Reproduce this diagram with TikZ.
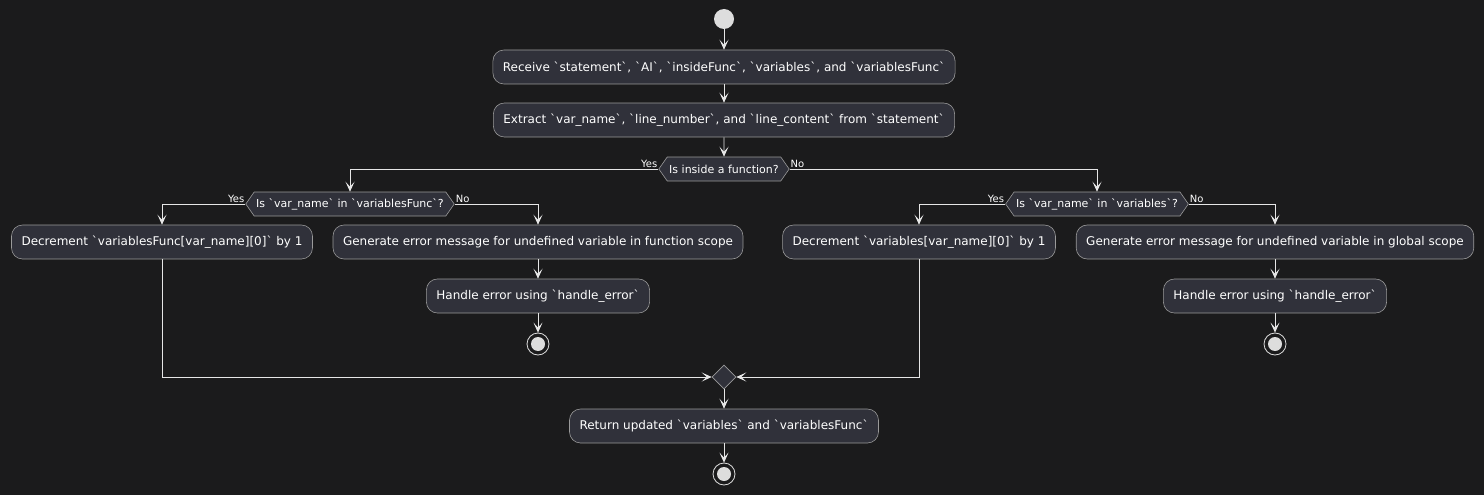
\documentclass[tikz,border=0pt]{standalone}
\usepackage{fontspec}
\setmainfont{DejaVu Sans}[Ligatures=TeXOff]
\usetikzlibrary{arrows.meta,shapes.symbols,shapes.geometric,calc}
\definecolor{bg}{HTML}{1B1B1C}
\definecolor{boxc}{HTML}{30313A}
\definecolor{bordc}{HTML}{9A9A9A}
\definecolor{linec}{HTML}{E6E6E6}
\definecolor{dotc}{HTML}{DDDDDD}
\newcommand{\bt}{\char"60\relax}
\tikzset{
 act/.style={draw=bordc, fill=boxc, rounded corners=11pt, minimum height=34pt, inner xsep=10pt, text=white, font=\fontsize{12}{14}\selectfont, line width=0.6pt},
 dec/.style={draw=bordc, fill=boxc, signal, signal to=west and east, signal pointer angle=110, minimum height=24pt, inner xsep=2pt, inner ysep=0pt, text=white, font=\fontsize{11}{13}\selectfont, line width=0.6pt},
 flow/.style={draw=linec, line width=0.8pt, -{Stealth[length=10pt,width=9pt,inset=5pt]}},
 lab/.style={text=white, font=\fontsize{10}{12}\selectfont, inner sep=1pt},
 startc/.style={circle, fill=dotc, minimum size=20pt, inner sep=0pt},
 endc/.style={circle, draw=dotc, line width=0.8pt, fill=bg, minimum size=22pt, inner sep=0pt, path picture={\fill[dotc] (path picture bounding box.center) circle (7pt);}},
 merge/.style={diamond, draw=bordc, fill=boxc, minimum size=24pt, inner sep=0pt, line width=0.6pt},
}
\begin{document}
\begin{tikzpicture}[x=1pt,y=-1pt]
\fill[bg] (0,0) rectangle (1484,495);
\useasboundingbox (0,0) rectangle (1484,495);

\node[startc] (s) at (724,19) {};
\node[act] (b1) at (724,67) {Receive \bt statement\bt, \bt AI\bt, \bt insideFunc\bt, \bt variables\bt, and \bt variablesFunc\bt};
\node[act] (b2) at (724,120) {Extract \bt var\_name\bt, \bt line\_number\bt, and \bt line\_content\bt{} from \bt statement\bt};
\node[dec] (d1) at (724,169) {Is inside a function?};

\node[dec] (d2) at (350,204) {Is \bt var\_name\bt{} in \bt variablesFunc\bt?};
\node[act] (b3) at (162,242) {Decrement \bt variablesFunc[var\_name][0]\bt{} by 1};
\node[act] (b4) at (538,242) {Generate error message for undefined variable in function scope};
\node[act] (b5) at (538,296) {Handle error using \bt handle\_error\bt};
\node[endc] (e1) at (538,344) {};

\node[dec] (d3) at (1097,204) {Is \bt var\_name\bt{} in \bt variables\bt?};
\node[act] (b6) at (919,242) {Decrement \bt variables[var\_name][0]\bt{} by 1};
\node[act] (b7) at (1275,242) {Generate error message for undefined variable in global scope};
\node[act] (b8) at (1275,296) {Handle error using \bt handle\_error\bt};
\node[endc] (e2) at (1275,344) {};

\node[merge] (m) at (724,377) {};
\node[act] (b9) at (724,426) {Return updated \bt variables\bt{} and \bt variablesFunc\bt};
\node[endc] (e3) at (724,474) {};

\draw[flow] (s) -- (b1);
\draw[flow] (b1) -- (b2);
\draw[flow] (b2) -- (d1);
\draw[flow] (d1.west) -| (d2.north);
\draw[flow] (d1.east) -| (d3.north);
\node[lab, anchor=south east] at (d1.west) {Yes};
\node[lab, anchor=south west] at (d1.east) {No};

\draw[flow] (d2.west) -| (b3.north);
\draw[flow] (d2.east) -| (b4.north);
\node[lab, anchor=south east] at (d2.west) {Yes};
\node[lab, anchor=south west] at (d2.east) {No};
\draw[flow] (b4) -- (b5);
\draw[flow] (b5) -- (e1);

\draw[flow] (d3.west) -| (b6.north);
\draw[flow] (d3.east) -| (b7.north);
\node[lab, anchor=south east] at (d3.west) {Yes};
\node[lab, anchor=south west] at (d3.east) {No};
\draw[flow] (b7) -- (b8);
\draw[flow] (b8) -- (e2);

\draw[flow] (b3.south) |- (m.west);
\draw[flow] (b6.south) |- (m.east);
\draw[flow] (m) -- (b9);
\draw[flow] (b9) -- (e3);
\end{tikzpicture}
\end{document}
